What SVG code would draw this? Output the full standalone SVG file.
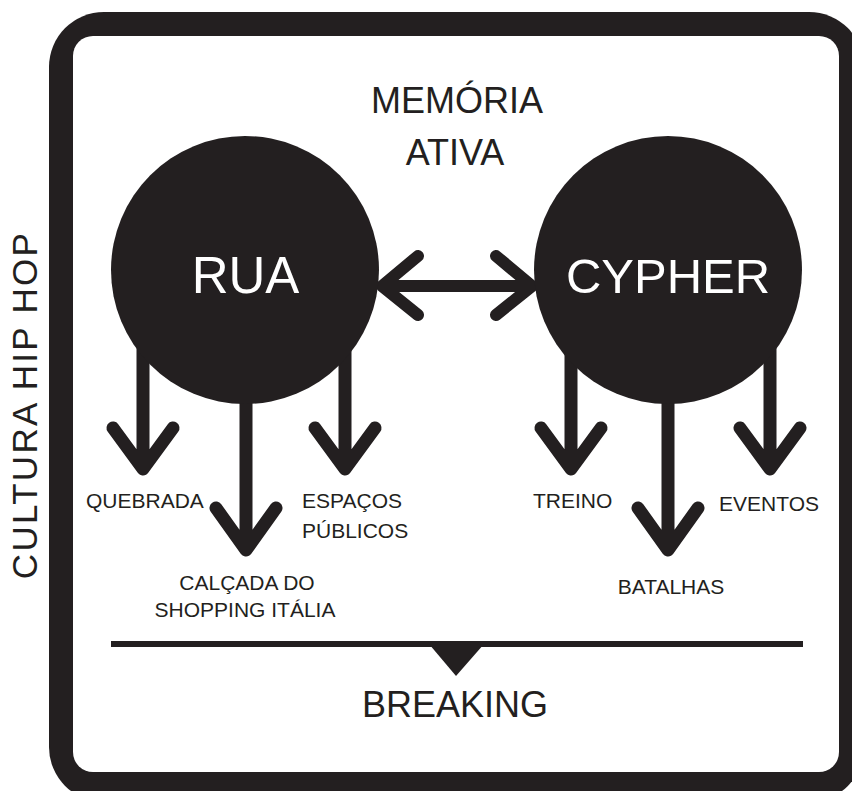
<svg xmlns="http://www.w3.org/2000/svg" width="852" height="791" viewBox="0 0 852 791">
<style>
.t{font-family:"Liberation Sans",Arial,sans-serif;fill:#231f20}
.w{font-family:"Liberation Sans",Arial,sans-serif;fill:#ffffff}
.ar{fill:none;stroke:#231f20;stroke-width:13;stroke-linecap:round;stroke-linejoin:round}
.ar2{fill:none;stroke:#231f20;stroke-width:12;stroke-linecap:round;stroke-linejoin:round}
</style>
<rect x="0" y="0" width="852" height="791" fill="#ffffff"/>
<g id="frame">
<rect x="49" y="12" width="815" height="790" rx="55" fill="#231f20"/>
<rect x="73" y="36" width="766" height="736" rx="20" fill="#ffffff"/>
</g>
<g id="connectors">
<path class="ar" d="M143,335 V469 M113,428 L143,469 L173,428"/>
<path class="ar" d="M246,380 V550 M216,508 L246,550 L276,508"/>
<path class="ar" d="M345,335 V469 M315,428 L345,469 L375,428"/>
<path class="ar" d="M571,335 V469 M541,428 L571,469 L601,428"/>
<path class="ar" d="M668,380 V550 M638,508 L668,550 L698,508"/>
<path class="ar" d="M770,335 V469 M740,428 L770,469 L800,428"/>
<path class="ar2" d="M382,286 H532 M418,256 L382,286 L418,315 M496,256 L532,286 L496,315"/>
</g>
<g id="rua">
<circle cx="245" cy="270" r="134" fill="#231f20"/>
<text class="w" x="245.5" y="293" font-size="51" text-anchor="middle">RUA</text>
</g>
<g id="cypher">
<circle cx="668" cy="270" r="134" fill="#231f20"/>
<text class="w" x="668" y="293" font-size="49" text-anchor="middle">CYPHER</text>
</g>
<g id="memoria">
<text class="t" x="457" y="113" font-size="36" text-anchor="middle">MEMÓRIA</text>
<text class="t" x="455" y="165" font-size="36" text-anchor="middle">ATIVA</text>
</g>
<g id="cultura">
<text class="t" transform="translate(37,405) rotate(-90)" font-size="35" letter-spacing="2.3" text-anchor="middle">CULTURA HIP HOP</text>
</g>
<g id="quebrada"><text class="t" x="86" y="508" font-size="21">QUEBRADA</text></g>
<g id="espacos">
<text class="t" x="302" y="508" font-size="21">ESPAÇOS</text>
<text class="t" x="302" y="538" font-size="21">PÚBLICOS</text>
</g>
<g id="calcada">
<text class="t" x="247" y="590" font-size="21" text-anchor="middle">CALÇADA DO</text>
<text class="t" x="245" y="617" font-size="21" text-anchor="middle">SHOPPING ITÁLIA</text>
</g>
<g id="treino"><text class="t" x="533" y="508" font-size="21">TREINO</text></g>
<g id="eventos"><text class="t" x="719" y="511" font-size="21">EVENTOS</text></g>
<g id="batalhas"><text class="t" x="671" y="594" font-size="21" text-anchor="middle">BATALHAS</text></g>
<g id="breaking">
<rect x="111" y="641" width="692" height="6" fill="#231f20"/>
<polygon points="429,644 484,644 456,676" fill="#231f20"/>
<text class="t" x="455" y="717" font-size="36" text-anchor="middle">BREAKING</text>
</g>
</svg>
